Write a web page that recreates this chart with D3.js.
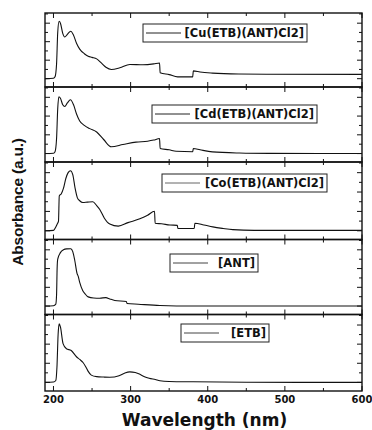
<!DOCTYPE html>
<html>
<head>
<meta charset="utf-8">
<script src="https://cdn.jsdelivr.net/npm/d3@7"></script>
<style>
  body { margin: 0; background: #fff; }
  text { font-family: "DejaVu Sans", "Liberation Sans", Arial, sans-serif; font-weight: bold; fill: #111; }
</style>
</head>
<body>
<script>
// series names, top panel first
var seriesNames = ["[Cu(ETB)(ANT)Cl2]", "[Cd(ETB)(ANT)Cl2]", "[Co(ETB)(ANT)Cl2]", "[ANT]", "[ETB]"];

// wavelength (nm) / absorbance (a.u.)
var cuWl  = [189, 200, 202, 204, 205.5, 207.3, 209, 212, 214.6, 218, 222.4, 226, 230, 234, 240, 245, 250, 256, 262, 268, 275, 286, 299, 316, 330, 337.5, 338.3, 350, 361, 380.5, 381.3, 390, 406, 440, 476, 600];
var cuAbs = [0, 0.02, 0.1, 0.8, 2.5, 3.1, 3.0, 2.45, 2.25, 2.4, 2.56, 2.35, 1.9, 1.6, 1.35, 1.21, 1.15, 1.07, 0.85, 0.62, 0.5, 0.59, 0.77, 0.75, 0.8, 0.85, 0.32, 0.22, 0.1, 0.1, 0.42, 0.36, 0.3, 0.25, 0.24, 0.23];

var cdWl  = [189, 200, 202, 204, 205.5, 207, 209, 212, 214.6, 218, 222, 226, 230, 234, 240, 247, 256, 265, 275, 290, 307, 322, 330, 337.5, 338.3, 350, 359, 380.5, 381.3, 390, 406, 441, 480, 600];
var cdAbs = [0, 0.02, 0.1, 0.8, 2.4, 3.03, 2.95, 2.6, 2.51, 2.7, 2.87, 2.6, 2.1, 1.74, 1.5, 1.33, 1.15, 0.75, 0.36, 0.48, 0.61, 0.66, 0.72, 0.8, 0.27, 0.2, 0.12, 0.1, 0.27, 0.2, 0.09, 0.03, 0.01, 0];

var coWl  = [189, 200, 203, 205, 206.5, 207.5, 210, 213, 216, 219, 222, 225, 228, 231, 234, 238, 244, 251, 256, 260, 266, 273, 284, 296.6, 312, 322, 331, 331.8, 340, 351, 360.5, 361.3, 382.5, 383.3, 395, 406.6, 420, 432.5, 460, 600];
var coAbs = [0, 0.02, 0.2, 0.36, 0.5, 1.8, 1.9, 2.2, 2.7, 3.0, 3.1, 2.9, 2.2, 1.7, 1.55, 1.46, 1.48, 1.5, 1.3, 1.1, 0.65, 0.35, 0.24, 0.42, 0.62, 0.8, 1.01, 0.39, 0.36, 0.3, 0.28, 0.12, 0.12, 0.39, 0.3, 0.2, 0.12, 0.06, 0.02, 0.02];

var antWl  = [189, 200, 203, 204, 204.7, 205.5, 209, 213, 217, 222.4, 225, 227.6, 230.6, 232, 234, 238, 241, 245, 252, 260, 268, 273, 279.5, 294.5, 295.3, 310, 338, 381, 600];
var antAbs = [0, 0.02, 0.1, 0.6, 1.98, 2.5, 2.85, 3.0, 3.05, 3.06, 2.9, 2.43, 1.73, 1.6, 1.26, 0.82, 0.65, 0.49, 0.43, 0.42, 0.45, 0.38, 0.3, 0.24, 0.14, 0.1, 0.03, 0, 0];

var etbWl  = [189, 200, 203, 204.5, 206, 207.3, 209, 212.4, 216.8, 223, 229.8, 234, 238.3, 242, 244.8, 249, 256, 265, 273, 285, 292, 299, 306, 312, 318, 324, 332, 338, 350, 381, 450, 600];
var etbAbs = [0, 0.02, 0.1, 0.8, 2.5, 3.06, 2.9, 2.03, 1.76, 1.67, 1.34, 1.2, 1.04, 0.8, 0.59, 0.38, 0.3, 0.28, 0.27, 0.35, 0.48, 0.55, 0.52, 0.42, 0.3, 0.22, 0.15, 0.09, 0.05, 0.03, 0.01, 0];

var seriesWl  = [cuWl, cdWl, coWl, antWl, etbWl];
var seriesAbs = [cuAbs, cdAbs, coAbs, antAbs, etbAbs];

var xTickValues = [200, 300, 400, 500, 600];
var xTitle = "Wavelength (nm)";
var yTitle = "Absorbance (a.u.)";

// layout
var width = 372, height = 430;
var plotLeft = 45, plotRight = 362;
var panelEdges = [13, 87, 162, 239.5, 314.5, 391];
// legend boxes (left, top, width, height, legend line colour)
var legendBoxes = [[143, 24, 164, 18, "#222"], [152, 105, 165, 18, "#222"], [162, 174, 165, 18, "#666"], [170, 254, 88, 18, "#444"], [181, 324, 88, 18, "#444"]];

var svg = d3.select("body").append("svg")
            .attr("width", width)
            .attr("height", height);

var x = d3.scaleLinear().domain([189, 600]).range([plotLeft, plotRight]);

var line = d3.line()
             .curve(d3.curveMonotoneX);

function drawPanel(i){
  var top = panelEdges[i], bottom = panelEdges[i+1];
  var y = d3.scaleLinear().domain([-0.45, 3.55]).range([bottom, top]);

  var g = svg.append("g");

  // ticks, all pointing inward
  var xMajor = d3.range(200, 601, 100), xMinor = d3.range(250, 600, 100);
  var yMajor = [0, 1, 2, 3], yMinor = [0.5, 1.5, 2.5, 3.5];
  var ticks = [];
  xMajor.forEach(function(v){ ticks.push([x(v), bottom, x(v), bottom-5], [x(v), top, x(v), top+5]); });
  xMinor.forEach(function(v){ ticks.push([x(v), bottom, x(v), bottom-3], [x(v), top, x(v), top+3]); });
  yMajor.forEach(function(v){ ticks.push([plotLeft, y(v), plotLeft+5, y(v)], [plotRight, y(v), plotRight-5, y(v)]); });
  yMinor.forEach(function(v){ ticks.push([plotLeft, y(v), plotLeft+3, y(v)], [plotRight, y(v), plotRight-3, y(v)]); });

  g.selectAll(".tick").data(ticks).enter().append("line")
   .attr("x1", function(d){ return d[0]; })
   .attr("y1", function(d){ return d[1]; })
   .attr("x2", function(d){ return d[2]; })
   .attr("y2", function(d){ return d[3]; })
   .attr("stroke", "#111")
   .attr("stroke-width", 1);

  // the spectrum
  var pts = seriesWl[i].map(function(w, j){ return [x(w), y(seriesAbs[i][j])]; });
  g.append("path")
   .attr("d", line(pts))
   .attr("fill", "none")
   .attr("stroke", "#111")
   .attr("stroke-width", 1.1);

  // frame
  g.append("rect")
   .attr("x", plotLeft).attr("y", top)
   .attr("width", plotRight-plotLeft).attr("height", bottom-top)
   .attr("fill", "none")
   .attr("stroke", "#111")
   .attr("stroke-width", 1.4);

  // legend
  var b = legendBoxes[i];
  g.append("rect")
   .attr("x", b[0]).attr("y", b[1]).attr("width", b[2]).attr("height", b[3])
   .attr("fill", "#fff").attr("stroke", "#222").attr("stroke-width", 1);
  g.append("line")
   .attr("x1", b[0]+3).attr("x2", b[0]+38)
   .attr("y1", b[1]+b[3]/2).attr("y2", b[1]+b[3]/2)
   .attr("stroke", b[4]).attr("stroke-width", 1);
  g.append("text")
   .attr("x", b[0]+b[2]-3)
   .attr("y", b[1]+b[3]/2+4.3)
   .attr("text-anchor", "end")
   .attr("font-size", 11.5)
   .text(seriesNames[i]);
}

for (var i=0;i<seriesNames.length;i++){
  drawPanel(i);
}

// x tick labels on the bottom panel
svg.selectAll(".xlab").data(xTickValues).enter().append("text")
   .attr("x", function(d){ return x(d); })
   .attr("y", 403)
   .attr("text-anchor", "middle")
   .attr("font-size", 10)
   .text(function(d){ return d; });

svg.append("text")
   .attr("x", (plotLeft+plotRight)/2 + 1)
   .attr("y", 426)
   .attr("text-anchor", "middle")
   .attr("font-size", 17)
   .text(xTitle);

svg.append("text")
   .attr("transform", "translate(23," + (panelEdges[0]+panelEdges[5])/2 + ") rotate(-90)")
   .attr("text-anchor", "middle")
   .style("font-family", "'Liberation Sans', Arial, sans-serif")
   .attr("font-size", 15.5)
   .attr("letter-spacing", -0.2)
   .text(yTitle);
</script>
</body>
</html>
